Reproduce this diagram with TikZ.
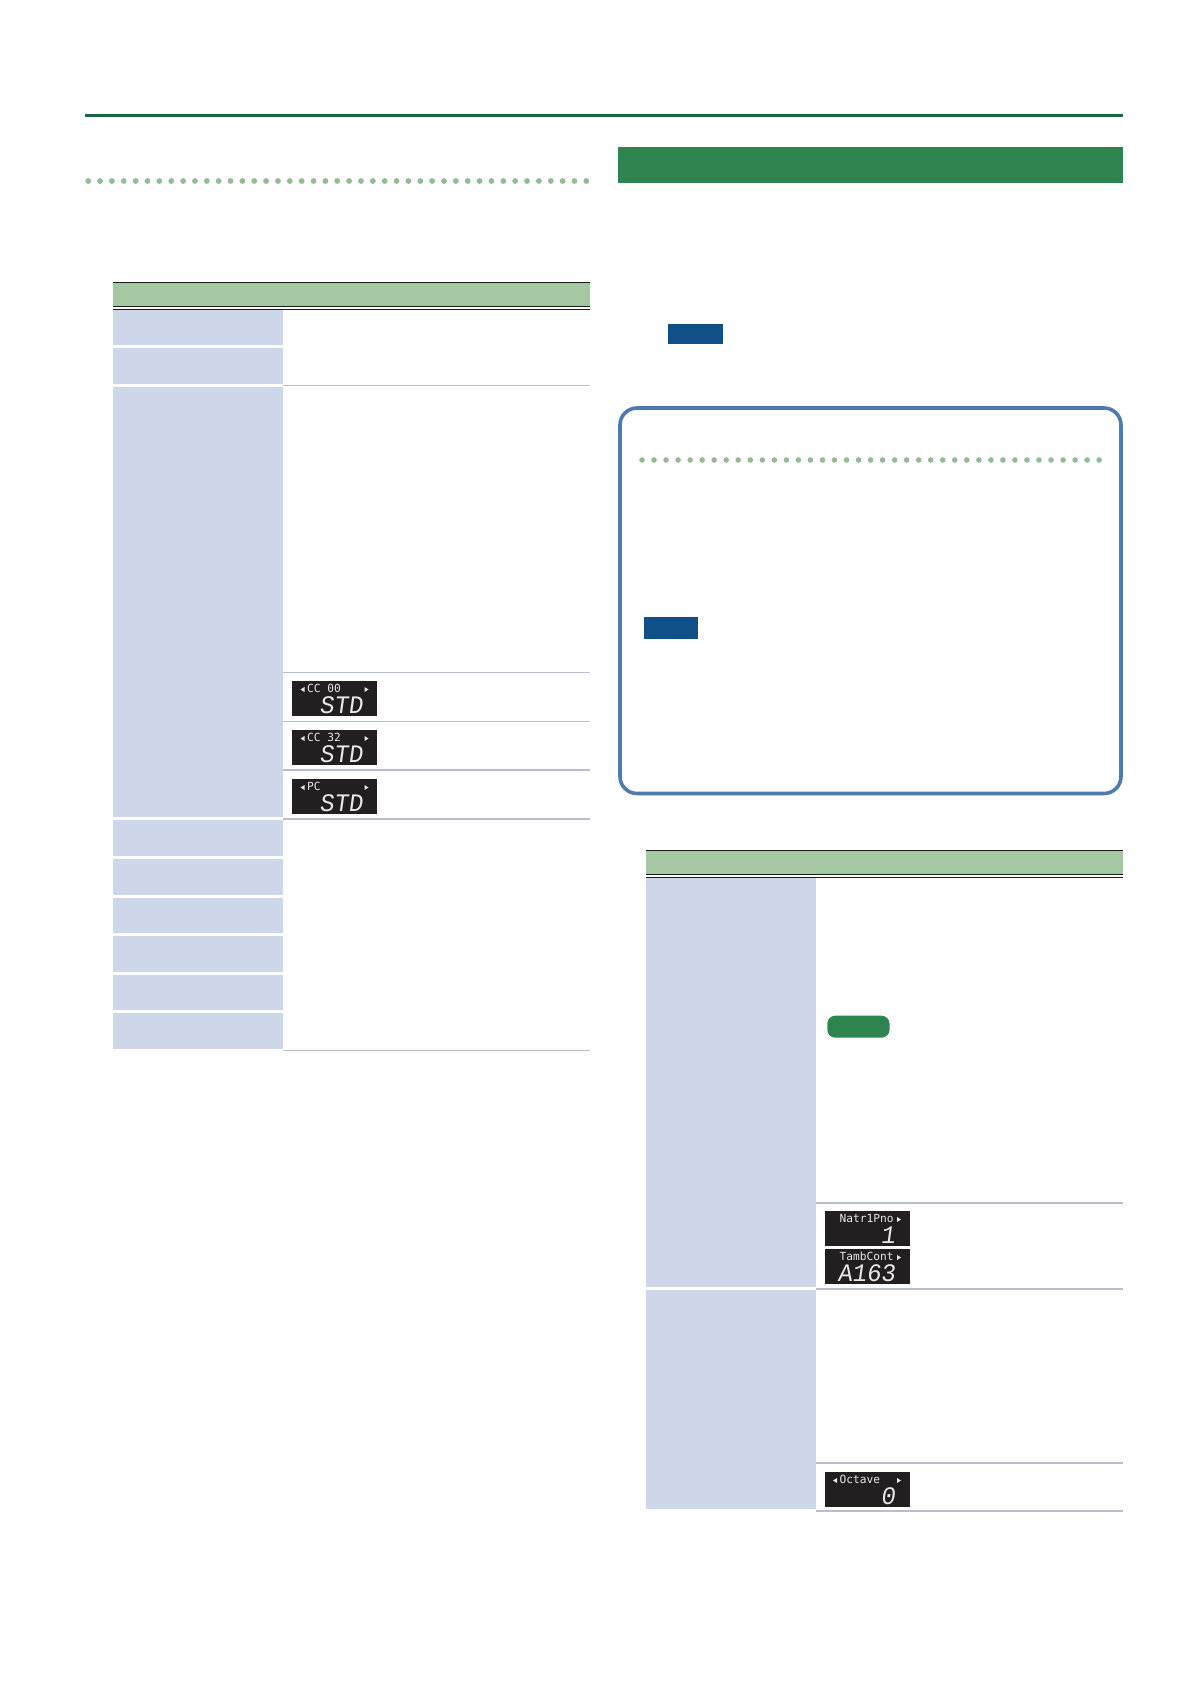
\documentclass[tikz,border=0pt]{standalone}
\usepackage{fontspec}
\setmainfont{Liberation Sans}
\newfontfamily\lcdsmall{DejaVu Sans Mono}
\newfontfamily\lcdbig{Liberation Mono}
\definecolor{rulegreen}{HTML}{17663F}
\definecolor{bandgreen}{HTML}{2E844F}
\definecolor{headgreen}{HTML}{A5C7A4}
\definecolor{dotgreen}{HTML}{93BB94}
\definecolor{cellblue}{HTML}{CED7E9}
\definecolor{rowline}{HTML}{BABDD0}
\definecolor{tagblue}{HTML}{0F5088}
\definecolor{boxblue}{HTML}{4F7AB1}
\definecolor{lcdbg}{HTML}{231F20}
\definecolor{lcdfg}{HTML}{E8E8E8}
\tikzset{
  cell/.style={fill=cellblue},
  head/.style={fill=headgreen},
  rowrule/.style={draw=rowline,line width=1.3pt},
  rowruleb/.style={draw=rowline,line width=1.8pt},
  blackrule/.style={draw=black!90,line width=1.2pt},
  dot/.style={fill=dotgreen},
  tag/.style={fill=tagblue},
  lcdback/.style={fill=lcdbg},
  lcdtop/.style={inner sep=0pt,anchor=west,text=lcdfg,font=\lcdsmall\fontsize{11.2}{12}\selectfont},
  lcdnum/.style={inner sep=0pt,anchor=east,text=lcdfg,xslant=0.14,yscale=1.05,transform shape,font=\lcdbig\fontsize{24}{26}\selectfont},
  lcdarrow/.style={fill=lcdfg}
}
% name, left x, top y, small text, big text, left-arrow flag (1/0)
\newcommand{\lcdpanel}[6]{%
  \fill[lcdback] (#2,#3) rectangle ++(85,34.7);
  \node[lcdtop] (#1top) at (#2+15,#3+7.5) {#4};
  \node[lcdnum] (#1num) at (#2+72,#3+24) {#5};
  \ifnum#6=1
    \fill[lcdarrow] (#2+8.5,#3+8.5) -- (#2+12.5,#3+6) -- (#2+12.5,#3+11) -- cycle;
  \fi
  \fill[lcdarrow] (#2+76.5,#3+8.5) -- (#2+72.5,#3+6) -- (#2+72.5,#3+11) -- cycle;
}
\begin{document}
\begin{tikzpicture}[x=1pt,y=-1pt]
\useasboundingbox[fill=white] (0,0) rectangle (1191,1684);
% top rule and band
\fill[rulegreen] (84.5,113.7) rectangle (1123,116.7);
\fill[bandgreen] (617.7,147) rectangle (1123,183);
% dotted rules
\foreach \i in {0,...,42} \fill[dot] (88.2+\i*11.86,181) circle (2.9);
\foreach \i in {0,...,38} \fill[dot] (642+\i*12.03,460) circle (2.8);
% tags
\fill[tag] (668,324) rectangle (723,344);
\fill[tag] (644,617) rectangle (698,639);
% rounded box
\draw[boxblue,line width=3.6pt,rounded corners=17pt] (620,408) rectangle (1121,793.5);
% left table
\fill[head] (113.3,282.5) rectangle (590,306);
\draw[blackrule] (113.3,282.5) -- (590,282.5);
\draw[blackrule] (113.3,306.5) -- (590,306.5);
\draw[blackrule] (113.3,309.7) -- (590,309.7);
\fill[cell] (113.3,310.3) rectangle (283.3,345);
\fill[cell] (113.3,347.7) rectangle (283.3,384);
\fill[cell] (113.3,387) rectangle (283.3,816.7);
\fill[cell] (113.3,820) rectangle (283.3,856);
\fill[cell] (113.3,859.3) rectangle (283.3,894.7);
\fill[cell] (113.3,897.7) rectangle (283.3,933);
\fill[cell] (113.3,936) rectangle (283.3,972);
\fill[cell] (113.3,975) rectangle (283.3,1010);
\fill[cell] (113.3,1013.3) rectangle (283.3,1048.7);
\draw[rowrule] (283.3,385.3) -- (590,385.3);
\draw[rowrule] (283.3,672.7) -- (590,672.7);
\draw[rowrule] (283.3,721.3) -- (590,721.3);
\draw[rowruleb] (283.3,769.7) -- (590,769.7);
\draw[rowruleb] (283.3,818.7) -- (590,818.7);
\draw[rowrule] (283.3,1050.3) -- (590,1050.3);
\lcdpanel{cczero}{292}{681}{CC 00}{STD}{1}
\lcdpanel{ccthree}{292}{730}{CC 32}{STD}{1}
\lcdpanel{pc}{292}{779}{PC}{STD}{1}
% right table
\fill[head] (646,850.3) rectangle (1123,874);
\draw[blackrule] (646,850.3) -- (1123,850.3);
\draw[blackrule] (646,874.5) -- (1123,874.5);
\draw[blackrule] (646,877.5) -- (1123,877.5);
\fill[cell] (646,878.1) rectangle (816,1287);
\fill[cell] (646,1290) rectangle (816,1509);
\draw[rowruleb] (816,1202.7) -- (1123,1202.7);
\draw[rowruleb] (816,1288.7) -- (1123,1288.7);
\draw[rowruleb] (816,1462.7) -- (1123,1462.7);
\draw[rowrule] (816,1511) -- (1123,1511);
\fill[bandgreen,rounded corners=8pt] (827.3,1015.7) rectangle (889.5,1037.7);
\lcdpanel{natrl}{824.5}{1211}{Natr1Pno}{1}{0}
\lcdpanel{tamb}{824.5}{1249}{TambCont}{A163}{0}
\lcdpanel{oct}{824.5}{1472}{Octave}{0}{1}
\end{tikzpicture}
\end{document}
